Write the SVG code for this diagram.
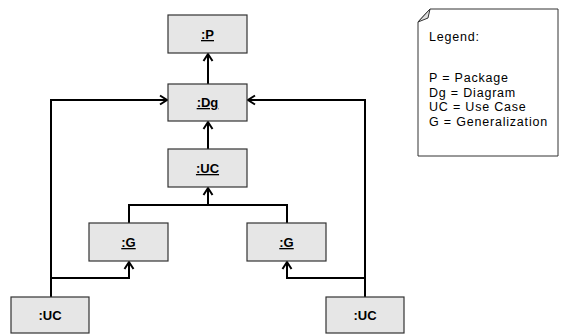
<svg xmlns="http://www.w3.org/2000/svg" width="562" height="334" viewBox="0 0 562 334">
<style>
.box{fill:#e6e6e6;stroke:#333;stroke-width:1.2}
.lbl{font-family:"Liberation Sans",Arial,sans-serif;font-size:13px;font-weight:bold;fill:#000;text-anchor:middle}
.u{text-decoration:underline}
.edge{fill:none;stroke:#000;stroke-width:2}
.leg{font-family:"Liberation Sans",Arial,sans-serif;font-size:12.5px;letter-spacing:0.8px;fill:#000}
</style>
<defs>
<marker id="ah" markerWidth="12" markerHeight="12" refX="10" refY="6" orient="auto" markerUnits="userSpaceOnUse">
<path d="M3,1.5 L10,6 L3,10.5" fill="none" stroke="#000" stroke-width="2"/>
</marker>
</defs>
<rect width="562" height="334" fill="#fff"/>
<g id="connectors">
<path class="edge" d="M208,84 V54" marker-end="url(#ah)"/>
<path class="edge" d="M208,149 V122" marker-end="url(#ah)"/>
<path class="edge" d="M51,297 V100 H167" marker-end="url(#ah)"/>
<path class="edge" d="M365,297 V100 H248" marker-end="url(#ah)"/>
<path class="edge" d="M129,223 V205 H287 V223"/>
<path class="edge" d="M208,205 V188" marker-end="url(#ah)"/>
<path class="edge" d="M51,278 H129 V262" marker-end="url(#ah)"/>
<path class="edge" d="M365,278 H287 V262" marker-end="url(#ah)"/>
</g>
<g id="P"><rect class="box" x="168" y="15" width="79" height="38"/><text class="lbl u" x="207.5" y="39">:P</text></g>
<g id="Dg"><rect class="box" x="168" y="84" width="79" height="37"/><text class="lbl u" x="207.5" y="107">:Dg</text></g>
<g id="UC"><rect class="box" x="168" y="149" width="79" height="38"/><text class="lbl u" x="207.5" y="173">:UC</text></g>
<g id="G1"><rect class="box" x="89" y="223" width="79" height="38"/><text class="lbl u" x="128.5" y="247">:G</text></g>
<g id="G2"><rect class="box" x="247" y="223" width="79" height="38"/><text class="lbl u" x="286.5" y="247">:G</text></g>
<g id="UC1"><rect class="box" x="11" y="297" width="78" height="36"/><text class="lbl" x="50" y="320">:UC</text></g>
<g id="UC2"><rect class="box" x="326" y="297" width="78" height="36"/><text class="lbl" x="365" y="320">:UC</text></g>
<g id="legend">
<path d="M430,9 H558 V156 H418 V22 Z" fill="#fff" stroke="#333" stroke-width="1"/>
<path d="M418,22 L430,9 L428,18 Z" fill="#ddd" stroke="#333" stroke-width="1"/>
<text class="leg" x="429" y="41">Legend:</text>
<text class="leg" x="429" y="82">P = Package</text>
<text class="leg" x="429" y="96.5">Dg = Diagram</text>
<text class="leg" x="429" y="111">UC = Use Case</text>
<text class="leg" x="429" y="125.5">G = Generalization</text>
</g>
</svg>
